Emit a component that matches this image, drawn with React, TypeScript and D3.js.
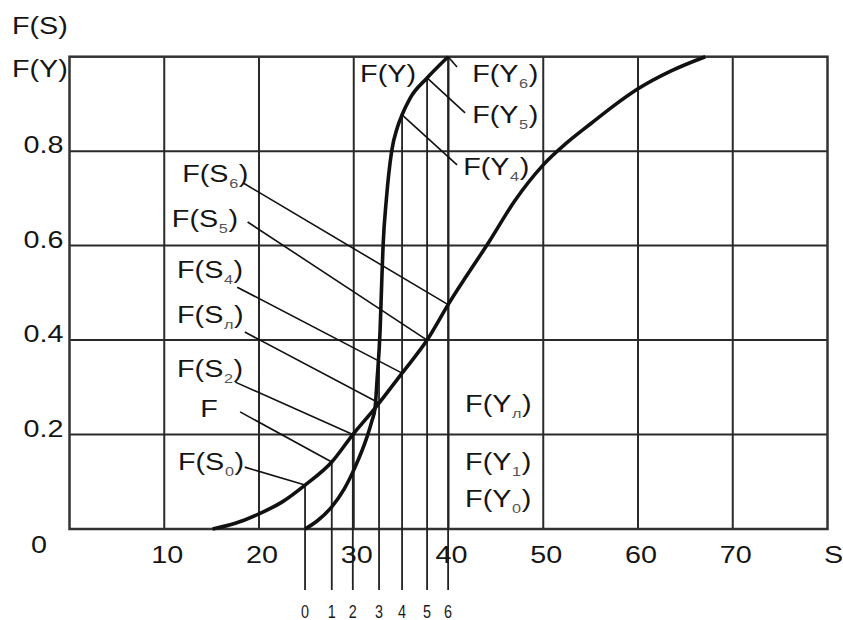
import React from "react";
import * as d3 from "d3";

const W = 843;
const H = 620;

// F(S) - gentle S-curve
const fsS = [15.1, 17.5, 20, 22.5, 24.86, 27.68, 29.9, 32.25, 35.1, 37.74, 39.96, 44.4, 47, 50, 52.5, 55, 57.5, 60, 63.5, 67.1];
const fsF = [0, 0.012, 0.032, 0.058, 0.093, 0.142, 0.2, 0.256, 0.33, 0.4, 0.475, 0.612, 0.695, 0.771, 0.818, 0.858, 0.897, 0.932, 0.97, 1.0];

// F(Y) - steep curve
const fyS = [24.86, 26.2, 27.68, 29, 30.14, 31.4, 31.93, 32.25, 32.46, 32.78, 32.96, 33.09, 33.45, 34.0, 34.6, 35.1, 35.94, 37.74, 39.96];
const fyF = [0, 0.018, 0.047, 0.085, 0.131, 0.195, 0.23, 0.256, 0.315, 0.42, 0.527, 0.597, 0.7, 0.8, 0.85, 0.877, 0.912, 0.955, 1.0];

// sample lines 0..6
const lineS = [24.86, 27.68, 29.9, 32.67, 35.1, 37.74, 39.96];
const lineLabels = ["0", "1", "2", "3", "4", "5", "6"];

const xTicks = [10, 20, 30, 40, 50, 60, 70];
const yTicks = [0.2, 0.4, 0.6, 0.8];
const yTickLabels = ["0.2", "0.4", "0.6", "0.8"];

// labels: text, sub, position (S, F), leader start (S, F), leader target line index & curve
type Ann = { t: string; sub?: string; s: number; f: number; ls?: number; lf?: number; line?: number; curve?: "S" | "Y" };
const anns: Ann[] = [
  { t: "F(S", sub: "6", s: 11.9, f: 0.735, ls: 18.3, lf: 0.733, line: 6, curve: "S" },
  { t: "F(S", sub: "5", s: 10.8, f: 0.639, ls: 18.8, lf: 0.65, line: 5, curve: "S" },
  { t: "F(S", sub: "4", s: 11.35, f: 0.531, ls: 17.7, lf: 0.512, line: 4, curve: "S" },
  { t: "F(S", sub: "л", s: 11.35, f: 0.436, ls: 18.5, lf: 0.417, line: 3, curve: "S" },
  { t: "F(S", sub: "2", s: 11.35, f: 0.322, ls: 17.5, lf: 0.311, line: 2, curve: "S" },
  { t: "F", s: 13.8, f: 0.237, ls: 18.0, lf: 0.248, line: 1, curve: "S" },
  { t: "F(S", sub: "0", s: 11.45, f: 0.125, ls: 18.5, lf: 0.131, line: 0, curve: "S" },
  { t: "F(Y", sub: "4", s: 41.55, f: 0.75, ls: 40.9, lf: 0.771, line: 4, curve: "Y" },
  { t: "F(Y", sub: "5", s: 42.5, f: 0.86, ls: 41.75, lf: 0.881, line: 5, curve: "Y" },
  { t: "F(Y", sub: "6", s: 42.5, f: 0.946, ls: 40.9, lf: 0.978, line: 6, curve: "Y" },
  { t: "F(Y)", s: 30.67, f: 0.946 },
  { t: "F(Y", sub: "л", s: 41.75, f: 0.248 },
  { t: "F(Y", sub: "1", s: 41.75, f: 0.125 },
  { t: "F(Y", sub: "0", s: 41.75, f: 0.047 },
];

const FONT = "'Liberation Sans', Arial, sans-serif";
const STRETCH = 1.25;

const Label = ({ x, y, t, sub, size = 23, anchor = "start" }: { x: number; y: number; t: string; sub?: string; size?: number; anchor?: string }) => (
  <text
    transform={`translate(${x},${y}) scale(${STRETCH},1)`}
    fontFamily={FONT}
    fontSize={size}
    fill="#151515"
    textAnchor={anchor}
  >
    {t}
    {sub !== undefined && (
      <>
        <tspan fontSize={13} dy={6} dx={0.5} fill="#555">{sub}</tspan>
        <tspan dy={-6} dx={0.5}>)</tspan>
      </>
    )}
  </text>
);

export default function App() {
  const x = d3.scaleLinear().domain([0, 80]).range([69.5, 827.5]);
  const y = d3.scaleLinear().domain([0, 1]).range([529, 56.7]);

  const fsAt = d3.scaleLinear().domain(fsS).range(fsF).clamp(true);
  const fyAt = d3.scaleLinear().domain(fyS).range(fyF).clamp(true);

  const line = d3
    .line<[number, number]>()
    .x((d) => x(d[0]))
    .y((d) => y(d[1]))
    .curve(d3.curveMonotoneX);

  const fsPath = line(fsS.map((s, i) => [s, fsF[i]]) as [number, number][]) || "";
  const fyPath = line(fyS.map((s, i) => [s, fyF[i]]) as [number, number][]) || "";

  const bottomY = y(0) + 61;

  return (
    <svg width={W} height={H} style={{ position: "absolute", left: 0, top: 0, background: "#fff" }}>
      <rect width={W} height={H} fill="#fff" />
      {/* grid */}
      {xTicks.map((t) => (
        <line key={"gx" + t} x1={x(t)} x2={x(t)} y1={y(1)} y2={y(0)} stroke="#2a2a2a" strokeWidth={2} />
      ))}
      {yTicks.map((t) => (
        <line key={"gy" + t} x1={x(0)} x2={x(80)} y1={y(t)} y2={y(t)} stroke="#2a2a2a" strokeWidth={2} />
      ))}
      <rect x={x(0)} y={y(1)} width={x(80) - x(0)} height={y(0) - y(1)} fill="none" stroke="#333" strokeWidth={2.5} />

      {/* sample lines */}
      {lineS.map((s, i) => (
        <line
          key={"l" + i}
          x1={x(s)}
          x2={x(s)}
          y1={y(Math.max(fsAt(s), fyAt(s)))}
          y2={bottomY}
          stroke="#222"
          strokeWidth={1.8}
        />
      ))}
      {lineLabels.map((l, i) => (
        <text
          key={"ll" + i}
          transform={`translate(${x(lineS[i])},${bottomY + 28}) scale(0.8,1)`}
          fontFamily={FONT}
          fontSize={18}
          textAnchor="middle"
          fill="#1a1a1a"
        >
          {l}
        </text>
      ))}

      {/* leaders */}
      {anns
        .filter((a) => a.line !== undefined)
        .map((a, i) => {
          const s = lineS[a.line as number];
          const f = a.curve === "S" ? fsAt(s) : fyAt(s);
          return (
            <line key={"ld" + i} x1={x(a.ls as number)} y1={y(a.lf as number)} x2={x(s)} y2={y(f)} stroke="#111" strokeWidth={1.6} />
          );
        })}

      {/* curves */}
      <path d={fsPath} fill="none" stroke="#111" strokeWidth={3.6} />
      <path d={fyPath} fill="none" stroke="#111" strokeWidth={3.6} />

      {/* axis labels */}
      {xTicks.map((t) => (
        <Label key={"xt" + t} x={x(t) + 3} y={y(0) + 34} t={String(t)} anchor="middle" />
      ))}
      <Label x={x(80) + 6} y={y(0) + 34} t="S" anchor="middle" />
      {yTicks.map((t, i) => (
        <Label key={"yt" + t} x={x(0) - 6} y={y(t) + 2} t={yTickLabels[i]} anchor="end" />
      ))}
      <Label x={39} y={y(0) + 24} t="0" anchor="middle" />
      <Label x={12} y={y(1) + 20} t="F(Y)" />
      <Label x={12} y={y(1) - 23} t="F(S)" />

      {/* annotations */}
      {anns.map((a, i) => (
        <Label key={"a" + i} x={x(a.s)} y={y(a.f)} t={a.t} sub={a.sub} />
      ))}
    </svg>
  );
}
